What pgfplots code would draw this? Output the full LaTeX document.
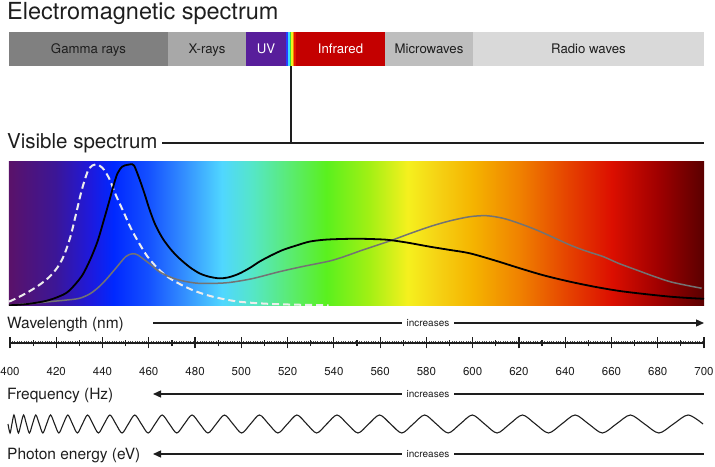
\documentclass[border=0pt]{standalone}
\usepackage{fontspec}
\setmainfont{TeX Gyre Heros}
\usepackage{pgfplots}
\pgfplotsset{compat=1.18}
\usetikzlibrary{arrows.meta}

\definecolor{cgamma}{RGB}{128,128,128}
\definecolor{cxray}{RGB}{168,168,168}
\definecolor{cuv}{RGB}{88,30,155}
\definecolor{cir}{RGB}{196,0,0}
\definecolor{cmicro}{RGB}{190,190,190}
\definecolor{cradio}{RGB}{217,217,217}
\definecolor{v1}{RGB}{40,60,255}
\definecolor{v2}{RGB}{60,220,255}
\definecolor{v3}{RGB}{60,220,60}
\definecolor{v4}{RGB}{240,240,30}
\definecolor{v5}{RGB}{245,130,0}
\definecolor{v6}{RGB}{225,20,0}
\definecolor{ctxt}{RGB}{30,30,30}

\definecolor{s400}{RGB}{90,18,105}
\definecolor{s420}{RGB}{60,22,150}
\definecolor{s435}{RGB}{30,25,220}
\definecolor{s445}{RGB}{0,40,255}
\definecolor{s460}{RGB}{20,80,255}
\definecolor{s475}{RGB}{50,140,255}
\definecolor{s492}{RGB}{80,215,255}
\definecolor{s505}{RGB}{85,230,200}
\definecolor{s520}{RGB}{90,235,120}
\definecolor{s537}{RGB}{90,240,30}
\definecolor{s555}{RGB}{160,240,20}
\definecolor{s572}{RGB}{245,240,30}
\definecolor{s585}{RGB}{245,210,20}
\definecolor{s600}{RGB}{245,180,0}
\definecolor{s620}{RGB}{240,130,0}
\definecolor{s640}{RGB}{230,70,0}
\definecolor{s660}{RGB}{220,15,0}
\definecolor{s680}{RGB}{160,0,0}
\definecolor{s700}{RGB}{90,0,0}

\pgfdeclarehorizontalshading{visspec}{100bp}{color(0bp)=(s400); color(25bp)=(s400); color(28.33bp)=(s420); color(30.83bp)=(s435); color(32.5bp)=(s445); color(35bp)=(s460); color(37.5bp)=(s475); color(40.33bp)=(s492); color(42.5bp)=(s505); color(45bp)=(s520); color(47.83bp)=(s537); color(50.83bp)=(s555); color(53.67bp)=(s572); color(55.83bp)=(s585); color(58.33bp)=(s600); color(61.67bp)=(s620); color(65bp)=(s640); color(68.33bp)=(s660); color(71.67bp)=(s680); color(75bp)=(s700); color(100bp)=(s700)}

\begin{document}
\begin{tikzpicture}[x=1pt,y=1pt]
\path[use as bounding box] (0,0) rectangle (715,466);

% Titles
\node[anchor=base west, inner sep=0pt, font=\fontsize{23.5}{26}\selectfont, text=ctxt] at (7,446) {Electromagnetic spectrum};
\node[anchor=base west, inner sep=0pt, font=\fontsize{20.5}{24}\selectfont, text=ctxt] at (7,317) {Visible spectrum};
\draw[line width=1.5pt, ctxt] (162,323) -- (704,323);
\draw[line width=1.5pt, ctxt] (291,400) -- (291,323);

% EM spectrum bar
\begin{axis}[at={(9pt,400pt)}, anchor=south west, scale only axis,
  width=695pt, height=34pt, xmin=0, xmax=695, ymin=-0.5, ymax=0.5,
  xbar stacked, bar width=34pt, hide axis, clip=false]
\addplot[fill=cgamma, draw=none] coordinates {(159,0)};
\addplot[fill=cxray, draw=none] coordinates {(78,0)};
\addplot[fill=cuv, draw=none] coordinates {(40,0)};
\addplot[fill=v1, draw=none] coordinates {(2,0)};
\addplot[fill=v2, draw=none] coordinates {(1.5,0)};
\addplot[fill=v3, draw=none] coordinates {(1.5,0)};
\addplot[fill=v4, draw=none] coordinates {(1.5,0)};
\addplot[fill=v5, draw=none] coordinates {(1.5,0)};
\addplot[fill=v6, draw=none] coordinates {(2,0)};
\addplot[fill=cir, draw=none] coordinates {(89,0)};
\addplot[fill=cmicro, draw=none] coordinates {(88,0)};
\addplot[fill=cradio, draw=none] coordinates {(231,0)};
\end{axis}
\begin{scope}[every node/.style={anchor=base, inner sep=0pt, font=\fontsize{13.2}{15}\selectfont}]
\node[text=ctxt] at (88.5,412.5) {Gamma rays};
\node[text=ctxt] at (207,412.5) {X-rays};
\node[text=white] at (266,412.5) {UV};
\node[text=white] at (340.5,412.5) {Infrared};
\node[text=ctxt] at (429,412.5) {Microwaves};
\node[text=ctxt] at (588.5,412.5) {Radio waves};
\end{scope}

% Visible spectrum
\begin{axis}[at={(9pt,160pt)}, anchor=south west, scale only axis,
  width=695pt, height=144pt, xmin=400, xmax=700, ymin=0, ymax=1,
  axis lines=none]
\shade[shading=visspec] (axis cs:400,0) rectangle (axis cs:700,1);
\addplot[color=white!93!black, line width=2pt, dash pattern=on 7pt off 4pt, smooth] coordinates {
(400,0.03) (404,0.06) (408.6,0.1) (413,0.145) (417.3,0.2) (421,0.27) (423.8,0.354) (426.5,0.48) (428.8,0.63) (430.7,0.76) (432.4,0.86) (434.6,0.956) (437.5,0.984) (440.3,0.96) (443.2,0.887) (446.1,0.771) (449.7,0.644) (452.6,0.54) (456.2,0.435) (459.8,0.343) (464.9,0.25) (470.6,0.18) (479.2,0.111) (487.9,0.065) (499.4,0.03) (515,0.013) (538,0.005)};
\addplot[color=black!55, line width=1.5pt, smooth] coordinates {
(400,0.005) (410,0.018) (417.3,0.03) (424,0.04) (430.3,0.053) (435,0.085) (438.9,0.134) (442,0.185) (446.1,0.262) (450.4,0.343) (453.3,0.363) (455.5,0.355) (457.6,0.331) (461,0.29) (464.9,0.238) (469,0.205) (473.5,0.18) (478,0.165) (482.2,0.157) (488,0.157) (495,0.163) (505,0.19) (516.7,0.238) (527,0.275) (538.3,0.312) (545,0.345) (552.7,0.389) (564.3,0.451) (572,0.497) (581.6,0.551) (590,0.59) (598.9,0.62) (606.1,0.627) (613.3,0.609) (620,0.575) (627.7,0.528) (635,0.476) (642.1,0.424) (649,0.382) (656.5,0.343) (663,0.297) (670.9,0.25) (678,0.208) (685.3,0.169) (692,0.145) (699,0.123)};
\addplot[color=black, line width=1.8pt, smooth] coordinates {
(400,0.005) (407,0.012) (414.4,0.03) (419,0.05) (424.5,0.088) (428,0.14) (431.7,0.215) (435,0.32) (438.2,0.448) (441,0.6) (443.2,0.724) (445,0.83) (446.8,0.92) (448.9,0.968) (451,0.98) (452.5,0.984) (454,0.975) (456.2,0.887) (458.5,0.78) (460.5,0.678) (463,0.57) (466.3,0.47) (470,0.39) (473.5,0.331) (478,0.27) (482.2,0.227) (486,0.205) (490.8,0.192) (495,0.2) (499.4,0.225) (504,0.265) (508.1,0.308) (513,0.35) (518.2,0.389) (524,0.42) (529.7,0.447) (536,0.46) (542.7,0.465) (551,0.467) (560,0.463) (564.3,0.458) (572,0.44) (581.6,0.412) (590,0.39) (598.9,0.366) (610,0.315) (620.5,0.262) (631,0.212) (642.1,0.169) (653,0.133) (663.7,0.104) (675,0.082) (685.3,0.065) (693,0.056) (700,0.05)};
\end{axis}

% Wavelength row
\node[anchor=base west, inner sep=0pt, font=\fontsize{15.5}{17}\selectfont, text=ctxt] at (7,137) {Wavelength (nm)};
\draw[line width=1.3pt, ctxt, -{Triangle[length=8pt,width=7pt]}] (153,143) -- (704,143);
\node[anchor=base, fill=white, inner xsep=5pt, inner ysep=1pt, font=\fontsize{10}{11}\selectfont, text=ctxt] at (428,139.5) {increases};

\begin{axis}[at={(10pt,123pt)}, anchor=south west, scale only axis,
  width=694pt, height=5pt, xmin=400, xmax=700, ymin=0, ymax=1,
  axis x line=bottom, axis y line=none,
  x axis line style={-, line width=1.1pt, color=ctxt},
  xtick={400,420,...,700}, minor x tick num=19, tick align=center,
  major tick length=11pt, minor tick length=3pt,
  major tick style={line width=1.2pt, color=ctxt},
  minor tick style={line width=0.35pt, color=black!70},
  extra x ticks={410,430,...,690}, extra x tick labels={},
  extra x tick style={major tick length=6.5pt},
  xticklabel style={font=\fontsize{11.5}{13}\selectfont, text=ctxt, anchor=base, yshift=-27pt, inner sep=0pt},
  /pgf/number format/assume math mode=true,
  /pgf/number format/1000 sep={}]
\addplot[draw=none] coordinates {(400,0.5) (700,0.5)};
\end{axis}

% Frequency row
\node[anchor=base west, inner sep=0pt, font=\fontsize{15.5}{17}\selectfont, text=ctxt] at (7,66) {Frequency (Hz)};
\draw[line width=1.3pt, ctxt, {Triangle[length=8pt,width=7pt]}-] (153,72) -- (704,72);
\node[anchor=base, fill=white, inner xsep=5pt, inner ysep=1pt, font=\fontsize{10}{11}\selectfont, text=ctxt] at (428,68.5) {increases};

% Wave
\begin{axis}[at={(0pt,33pt)}, anchor=south west, scale only axis,
  width=715pt, height=18pt, xmin=0, xmax=715, ymin=-1, ymax=1,
  hide axis, clip=false]
\addplot[color=ctxt, line width=1.1pt, smooth] coordinates {
(8,0) (10.06,-1) (11.93,0) (13.95,1) (16.13,0) (18.46,-1) (20.96,0) (23.61,1) (26.43,0) (29.40,-1) (32.52,0) (35.81,1) (39.26,0) (42.86,-1) (46.62,0) (50.54,1) (54.62,0) (58.85,-1) (63.25,0) (67.80,1) (72.51,0) (77.38,-1) (82.40,0) (87.59,1) (92.93,0) (98.43,-1) (104.09,0) (109.91,1) (115.88,0) (122.02,-1) (128.31,0) (134.76,1) (141.37,0) (148.13,-1) (155.06,0) (162.14,1) (169.38,0) (176.78,-1) (184.34,0) (192.05,1) (199.92,0) (207.96,-1) (216.15,0) (224.49,1) (233.00,0) (241.67,-1) (250.49,0) (259.47,1) (268.61,0) (277.90,-1) (287.36,0) (296.97,1) (306.74,0) (316.67,-1) (326.76,0) (337.00,1) (347.41,0) (357.97,-1) (368.69,0) (379.57,1) (390.60,0) (401.80,-1) (413.15,0) (424.66,1) (436.33,0) (448.16,-1) (460.15,0) (472.29,1) (484.59,0) (497.05,-1) (509.67,0) (522.45,1) (535.38,0) (548.47,-1) (561.72,0) (575.13,1) (588.70,0) (602.42,-1) (616.30,0) (630.35,1) (644.55,0) (658.91,-1) (673.42,0) (688.10,1) (703,0)};
\end{axis}

% Photon energy row
\node[anchor=base west, inner sep=0pt, font=\fontsize{15.5}{17}\selectfont, text=ctxt] at (7,6) {Photon energy (eV)};
\draw[line width=1.3pt, ctxt, {Triangle[length=8pt,width=7pt]}-] (153,12) -- (704,12);
\node[anchor=base, fill=white, inner xsep=5pt, inner ysep=1pt, font=\fontsize{10}{11}\selectfont, text=ctxt] at (428,8.5) {increases};

\end{tikzpicture}
\end{document}
